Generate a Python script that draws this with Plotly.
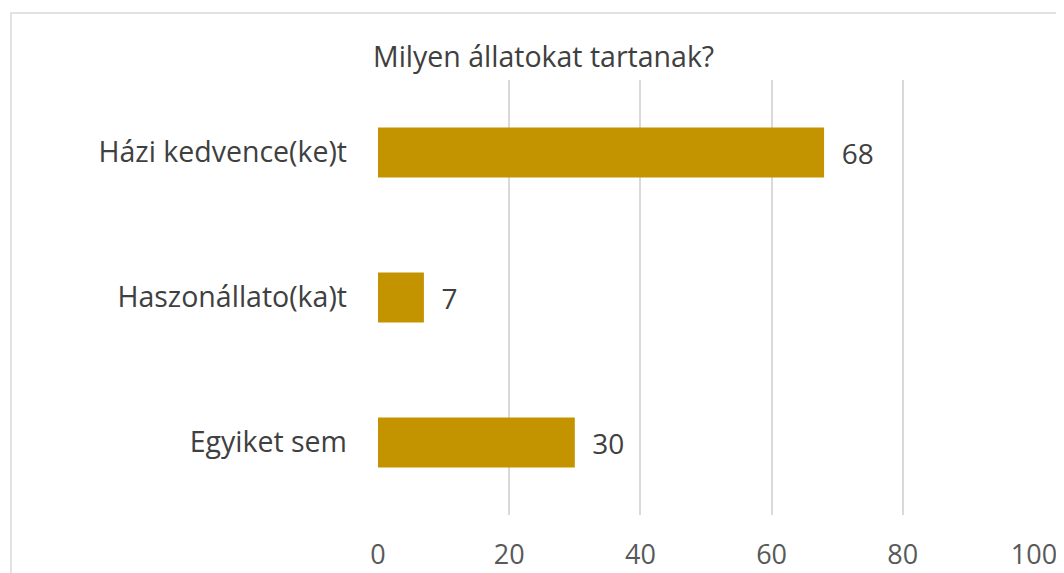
import plotly.graph_objects as go

categories = ["Házi kedvence(ke)t", "Haszonállato(ka)t", "Egyiket sem"]
values = [68, 7, 30]
x_ticks = [0, 20, 40, 60, 80, 100]

bar_color = "#C39400"
font_family = "Open Sans, Noto Sans, sans-serif"

# the page has an 8px body margin, so shift everything up/left by 8px
left, top, plot_w, plot_h = 370, 72, 656, 435

fig = go.Figure()

fig.add_trace(
    go.Bar(
        x=values,
        y=categories,
        orientation="h",
        marker=dict(color=bar_color, line=dict(width=0)),
        text=[f"  {v}" for v in values],
        textposition="outside",
        textfont=dict(size=28, color="#404040", family=font_family),
        cliponaxis=False,
        hoverinfo="skip",
    )
)

fig.update_layout(
    width=1064,
    height=573,
    paper_bgcolor="white",
    plot_bgcolor="white",
    margin=dict(l=left, r=1064 - left - plot_w, t=top, b=573 - top - plot_h),
    bargap=0.655,
    showlegend=False,
    font=dict(family=font_family, color="#404040"),
    xaxis=dict(
        range=[0, 100],
        tickvals=x_ticks,
        showgrid=True,
        gridcolor="#d9d9d9",
        gridwidth=1.5,
        zeroline=False,
        showline=False,
        ticks="",
        ticklabelstandoff=21,
        tickfont=dict(size=27, color="#595959"),
        automargin=False,
        fixedrange=True,
    ),
    yaxis=dict(
        autorange="reversed",
        showgrid=False,
        zeroline=False,
        showline=False,
        ticks="",
        ticklabelstandoff=30,
        tickfont=dict(size=28.5, color="#404040"),
        automargin=False,
        fixedrange=True,
    ),
    annotations=[
        dict(
            text="Milyen állatokat tartanak?",
            xref="paper",
            yref="paper",
            x=(371 - 378) / plot_w,
            y=(515 - 56) / plot_h,
            xanchor="left",
            yanchor="middle",
            showarrow=False,
            font=dict(size=28.5, color="#404040", family=font_family),
        )
    ],
    shapes=[
        dict(
            type="rect",
            xref="paper",
            yref="paper",
            x0=(11 - 378) / plot_w,
            x1=(1080 - 378) / plot_w,
            y0=-0.5,
            y1=1 + (80 - 13) / plot_h,
            line=dict(color="#d9d9d9", width=1.5),
            fillcolor="rgba(0,0,0,0)",
            layer="below",
        )
    ],
)

fig.write_html("out.html")
